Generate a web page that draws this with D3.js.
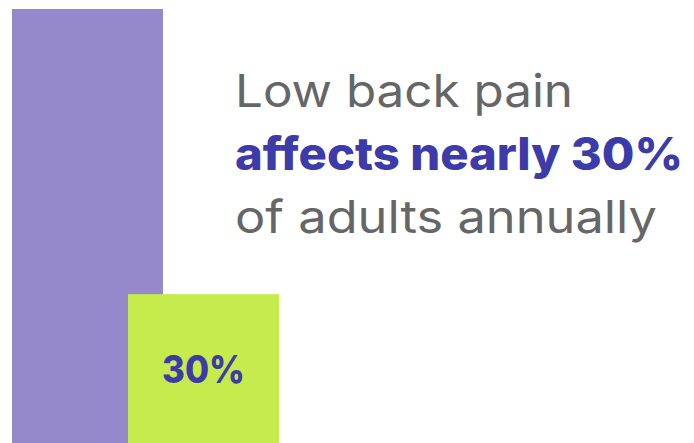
<!DOCTYPE html>
<html>
<head>
<meta charset="utf-8">
<script src="https://cdn.jsdelivr.net/npm/d3@7"></script>
<style>
  body { margin: 0; background: #fff; }
  svg { display: block; }
</style>
</head>
<body>
<script>
var W = 694, H = 443;

// bar data (purple bar runs off the top, green is the 30% block)
var barNames = ["all", "affected"];
var barValues = [100, 34.3];
var barColors = ["#9589cb", "#c6eb4c"];
var barLabel = "30%";

var lines = ["Low back pain", "affects nearly 30%", "of adults annually"];
var lineBold = [false, true, false];
// widths the poppins-like text takes in the picture
var lineWidths = [338, 448, 422];

var svg = d3.select("body").append("svg")
    .attr("width", W)
    .attr("height", H);

var barW = 151;

// bars overlap: second one starts inside the first
var x = d3.scalePoint()
    .domain(barNames)
    .range([12, 128]);

var y = d3.scaleLinear()
    .domain([0, 100])
    .range([H, 9]);

svg.selectAll("rect.bar")
    .data(barValues)
    .enter().append("rect")
    .attr("class", "bar")
    .attr("x", (d, i) => x(barNames[i]))
    .attr("y", d => y(d))
    .attr("width", barW)
    .attr("height", d => H - y(d))
    .attr("fill", (d, i) => barColors[i]);

svg.append("text")
    .attr("x", x("affected") + barW / 2)
    .attr("y", 383)
    .attr("text-anchor", "middle")
    .attr("font-family", "Inter, 'Noto Sans', sans-serif")
    .attr("font-weight", 800)
    .attr("font-size", 38)
    .attr("textLength", 83)
    .attr("lengthAdjust", "spacingAndGlyphs")
    .attr("fill", "#3d3aa9")
    .text(barLabel);

svg.selectAll("text.line")
    .data(lines)
    .enter().append("text")
    .attr("class", "line")
    .attr("x", 235)
    .attr("y", (d, i) => 107 + i * 63)
    .attr("font-family", "Inter, 'Noto Sans', sans-serif")
    .attr("font-size", 45)
    .attr("font-weight", (d, i) => lineBold[i] ? 800 : 400)
    .attr("fill", (d, i) => lineBold[i] ? "#3d3aa9" : "#666666")
    .attr("textLength", (d, i) => lineWidths[i])
    .attr("lengthAdjust", "spacingAndGlyphs")
    .text(d => d);
</script>
</body>
</html>
